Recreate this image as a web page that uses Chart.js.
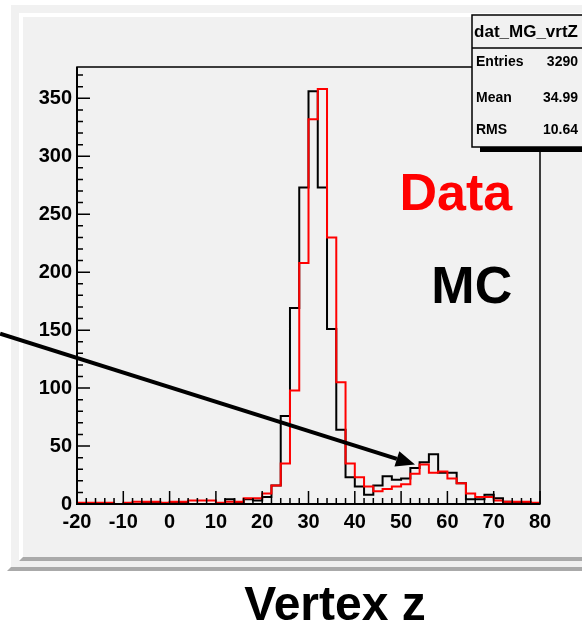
<!DOCTYPE html>
<html>
<head>
<meta charset="utf-8">
<script src="https://cdn.jsdelivr.net/npm/chart.js@4/dist/chart.umd.min.js"></script>
<style>
    html, body { margin: 0; padding: 0; background: #ffffff; }
    canvas { display: block; }
</style>
</head>
<body>
<canvas id="graficoVertexZ" width="582" height="622"></canvas>
<script>
// =================================================================================
// DADOS
// =================================================================================

// borda inferior de cada bin (largura 2)
const binLow = [-20, -18, -16, -14, -12, -10, -8, -6, -4, -2,
                0, 2, 4, 6, 8, 10, 12, 14, 16, 18,
                20, 22, 24, 26, 28, 30, 32, 34, 36, 38,
                40, 42, 44, 46, 48, 50, 52, 54, 56, 58,
                60, 62, 64, 66, 68, 70, 72, 74, 76, 78];
const xMax = 80;

const dataCounts = [1, 1, 1, 1, 0, 1, 2, 2, 2, 1,
                    2, 2, 3, 3, 3, 1, 2, 2, 5, 5,
                    9, 16, 35, 98, 208, 332, 358, 230, 105, 35,
                    23, 15, 11, 13, 15, 17, 26, 34, 27, 28,
                    22, 18, 9, 6, 6, 3, 2, 2, 2, 1];

const mcCounts = [0, 0, 0, 0, 0, 0, 0, 1, 1, 0,
                  1, 1, 0, 0, 0, 0, 4, 1, 4, 3,
                  6, 16, 76, 169, 273, 356, 273, 151, 64, 23,
                  15, 8, 16, 24, 21, 22, 31, 36, 43, 27,
                  27, 18, 4, 4, 8, 5, 2, 1, 1, 0];

const xTicks = [-20, -10, 0, 10, 20, 30, 40, 50, 60, 70, 80];
const yTicks = [0, 50, 100, 150, 200, 250, 300, 350];
const yMax = 377;

const statsTitle = 'dat_MG_vrtZ';
const statsLabels = ['Entries', 'Mean', 'RMS'];
const statsValues = ['3290', '34.99', '10.64'];

// seta: inicio e ponta em coordenadas do grafico
const arrowFrom = { x: -36.6, y: 147 };
const arrowTo = { x: 53, y: 34 };

const fonte = '"Liberation Sans", Arial, Helvetica, sans-serif';
const corFundo = '#f1f1f1';
const corSombra = '#aaaaaa';

// =================================================================================
// FUNCOES AUXILIARES
// =================================================================================

function montarPontos(counts) {
    const pts = binLow.map((x, i) => ({ x: x, y: counts[i] }));
    pts.push({ x: xMax, y: counts[counts.length - 1] });
    return pts;
}

function desenharPad(ctx, x0, y0, x1, y1, bw) {
    ctx.fillStyle = '#ffffff';
    ctx.fillRect(x0, y0, x1 - x0, y1 - y0);
    ctx.fillStyle = corSombra;
    ctx.beginPath();
    ctx.moveTo(x0, y1);
    ctx.lineTo(x1, y1);
    ctx.lineTo(x1 - bw, y1 - bw);
    ctx.lineTo(x0 + bw, y1 - bw);
    ctx.closePath();
    ctx.fill();
    ctx.fillStyle = corFundo;
    ctx.fillRect(x0 + bw, y0 + bw, x1 - x0 - 2 * bw, y1 - y0 - 2 * bw);
}

const pluginRoot = {
    id: 'estiloRoot',
    beforeDraw(chart) {
        const ctx = chart.ctx;
        ctx.save();
        ctx.fillStyle = '#ffffff';
        ctx.fillRect(0, 0, chart.width, chart.height);
        desenharPad(ctx, 7, 1, 620, 571, 4);
        desenharPad(ctx, 19, 13, 620, 561, 4);
        ctx.restore();
    },
    afterDraw(chart) {
        const ctx = chart.ctx;
        const a = chart.chartArea;
        const xs = chart.scales.x;
        const ys = chart.scales.y;
        ctx.save();

        // ticks (para dentro)
        ctx.strokeStyle = '#000';
        ctx.lineWidth = 1.5;
        ctx.beginPath();
        for (let v = xs.min; v <= xs.max; v += 2) {
            const px = xs.getPixelForValue(v);
            const len = (v % 10 === 0) ? 13 : 6;
            ctx.moveTo(px, a.bottom);
            ctx.lineTo(px, a.bottom - len);
        }
        for (let v = 0; v <= ys.max; v += 10) {
            const py = ys.getPixelForValue(v);
            const len = (v % 50 === 0) ? 13 : 6;
            ctx.moveTo(a.left, py);
            ctx.lineTo(a.left + len, py);
        }
        ctx.stroke();

        // moldura
        ctx.lineWidth = 1.5;
        ctx.strokeRect(a.left, a.top, a.right - a.left, a.bottom - a.top);
        ctx.lineWidth = 2;
        ctx.beginPath();
        ctx.moveTo(a.left, a.top);
        ctx.lineTo(a.left, a.bottom);
        ctx.lineTo(a.right, a.bottom);
        ctx.stroke();

        // seta
        const x1 = xs.getPixelForValue(arrowFrom.x), y1 = ys.getPixelForValue(arrowFrom.y);
        const x2 = xs.getPixelForValue(arrowTo.x), y2 = ys.getPixelForValue(arrowTo.y);
        const ang = Math.atan2(y2 - y1, x2 - x1);
        const hl = 19, hw = 8;
        const bx = x2 - hl * Math.cos(ang), by = y2 - hl * Math.sin(ang);
        ctx.lineWidth = 4;
        ctx.beginPath();
        ctx.moveTo(x1, y1);
        ctx.lineTo(bx, by);
        ctx.stroke();
        ctx.fillStyle = '#000';
        ctx.beginPath();
        ctx.moveTo(x2, y2);
        ctx.lineTo(bx + hw * Math.sin(ang), by - hw * Math.cos(ang));
        ctx.lineTo(bx - hw * Math.sin(ang), by + hw * Math.cos(ang));
        ctx.closePath();
        ctx.fill();

        // textos Data / MC
        ctx.textAlign = 'right';
        ctx.textBaseline = 'alphabetic';
        ctx.font = 'bold 52px ' + fonte;
        ctx.fillStyle = '#ff0000';
        ctx.fillText('Data', xs.getPixelForValue(74), ys.getPixelForValue(254));
        ctx.fillStyle = '#000';
        ctx.fillText('MC', xs.getPixelForValue(74), ys.getPixelForValue(173));

        // caixa de estatisticas
        ctx.fillStyle = '#000';
        ctx.fillRect(480, 147, 200, 5);
        ctx.fillStyle = corFundo;
        ctx.fillRect(472, 15, 200, 132);
        ctx.lineWidth = 1.5;
        ctx.strokeRect(472, 15, 200, 132);
        ctx.beginPath();
        ctx.moveTo(472, 48);
        ctx.lineTo(672, 48);
        ctx.stroke();
        ctx.fillStyle = '#000';
        ctx.textBaseline = 'middle';
        ctx.textAlign = 'center';
        ctx.font = 'bold 17px ' + fonte;
        ctx.fillText(statsTitle, 526, 32);
        ctx.font = 'bold 14px ' + fonte;
        const rowY = [62, 98, 130];
        statsLabels.forEach((lab, i) => {
            ctx.textAlign = 'left';
            ctx.fillText(lab, 476, rowY[i]);
            ctx.textAlign = 'right';
            ctx.fillText(statsValues[i], 578, rowY[i]);
        });

        // titulo do eixo x
        ctx.textAlign = 'center';
        ctx.textBaseline = 'alphabetic';
        ctx.font = 'bold 48px ' + fonte;
        ctx.fillText('Vertex z', 335, 620);

        ctx.restore();
    }
};

// =================================================================================
// GRAFICO
// =================================================================================

function renderHistograma() {
    const ctx = document.getElementById('graficoVertexZ');
    new Chart(ctx, {
        type: 'line',
        data: {
            datasets: [
                {
                    label: 'Data',
                    data: montarPontos(dataCounts),
                    borderColor: '#ff0000',
                    borderWidth: 2,
                    stepped: 'before',
                    pointRadius: 0,
                    fill: false
                },
                {
                    label: 'MC',
                    data: montarPontos(mcCounts),
                    borderColor: '#000000',
                    borderWidth: 2,
                    stepped: 'before',
                    pointRadius: 0,
                    fill: false
                }
            ]
        },
        options: {
            responsive: false,
            animation: false,
            devicePixelRatio: 1,
            layout: { padding: { top: 67, right: 42, left: 0, bottom: 0 } },
            plugins: {
                legend: { display: false },
                tooltip: { enabled: false }
            },
            scales: {
                x: {
                    type: 'linear',
                    min: xMax - 100,
                    max: xMax,
                    grid: { display: false, drawTicks: false },
                    border: { display: false },
                    afterBuildTicks: s => { s.ticks = xTicks.map(v => ({ value: v })); },
                    afterFit: s => { s.height = 118; },
                    ticks: {
                        padding: 6,
                        maxRotation: 0,
                        color: '#000',
                        font: { family: fonte, size: 20, weight: 'bold' }
                    }
                },
                y: {
                    min: 0,
                    max: yMax,
                    grid: { display: false, drawTicks: false },
                    border: { display: false },
                    afterBuildTicks: s => { s.ticks = yTicks.map(v => ({ value: v })); },
                    afterFit: s => { s.width = 77; },
                    ticks: {
                        padding: 5,
                        color: '#000',
                        font: { family: fonte, size: 20, weight: 'bold' }
                    }
                }
            }
        },
        plugins: [pluginRoot]
    });
}

renderHistograma();
</script>
</body>
</html>
